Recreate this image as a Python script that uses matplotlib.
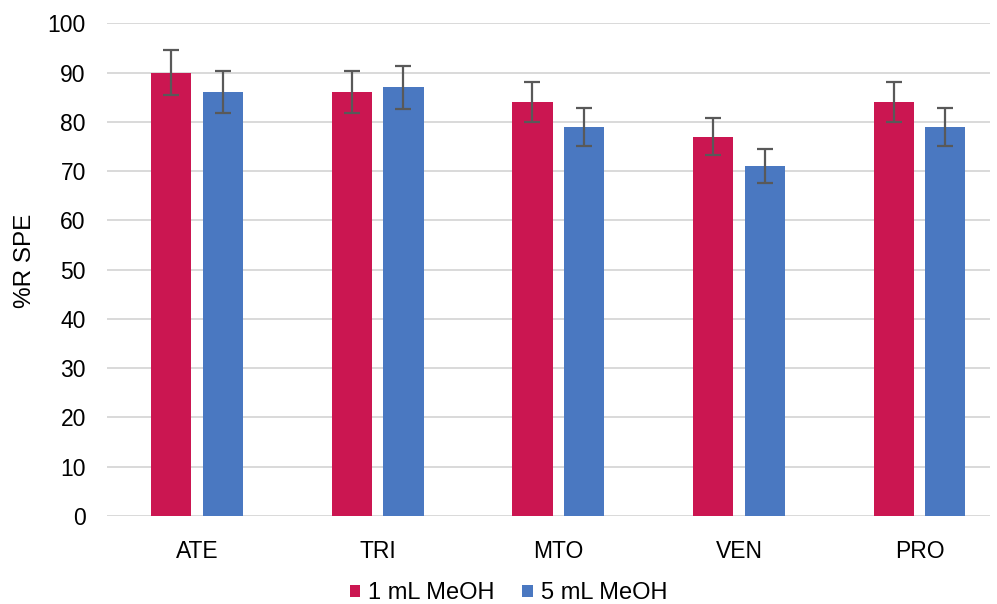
import numpy as np
import matplotlib.pyplot as plt

plt.rcParams['font.family'] = ['Liberation Sans', 'DejaVu Sans']

# data
compounds = ['ATE', 'TRI', 'MTO', 'VEN', 'PRO']
meoh_1ml = [90, 86, 84, 77, 84]
meoh_5ml = [86, 87, 79, 71, 79]
err_1ml = [4.5, 4.3, 4.1, 3.8, 4.1]
err_5ml = [4.3, 4.35, 3.9, 3.5, 3.9]

red = '#CB1651'
blue = '#4A78C1'

fig = plt.figure(figsize=(9.97, 6.04), dpi=100)
ax = fig.add_axes([0.107, 0.1457, 0.886, 0.8157])

x = np.arange(len(compounds))
w = 0.222
off = 0.143
ekw = dict(ecolor='#595959', elinewidth=1.6, capsize=5.5, capthick=1.6)
ax.bar(x - off, meoh_1ml, w, color=red, yerr=err_1ml, error_kw=ekw, label='1 mL MeOH', zorder=3)
ax.bar(x + off, meoh_5ml, w, color=blue, yerr=err_5ml, error_kw=ekw, label='5 mL MeOH', zorder=3)

ax.set_ylim(0, 100)
ax.set_xlim(-0.5, 4.39)
ax.set_yticks(range(0, 101, 10))
ax.set_xticks(x)
ax.set_xticklabels(compounds)
ax.yaxis.grid(True, color='#D9D9D9', linewidth=1.4, zorder=0)
ax.set_axisbelow(True)
for s in ax.spines.values():
    s.set_visible(False)
ax.tick_params(axis='both', length=0, labelsize=16.5, colors='#000000')
ax.tick_params(axis='y', pad=15)
ax.tick_params(axis='x', pad=17)
ax.set_ylabel('%R SPE', fontsize=17.5)
ax.yaxis.set_label_coords(-0.08, 0.517)

fig.legend(loc='lower center', ncol=2, frameon=False, fontsize=17,
           bbox_to_anchor=(0.51, -0.028), handlelength=0.45, handleheight=0.45,
           handletextpad=0.35, columnspacing=1.15, borderpad=0.2)

fig.savefig('out.png', dpi=100)
